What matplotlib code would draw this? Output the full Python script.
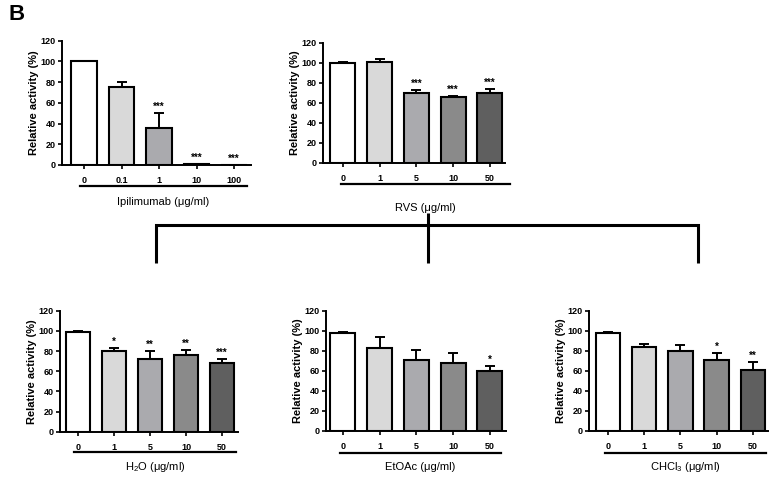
import matplotlib
matplotlib.use("Agg")
import matplotlib.pyplot as plt
from matplotlib.lines import Line2D
from matplotlib import font_manager as fm

# avoid the condensed "Narrow" variant being picked for Liberation Sans
fm.fontManager.ttflist = [f for f in fm.fontManager.ttflist
                          if 'Narrow' not in f.fname and 'Narrow' not in f.name]

plt.rcParams['font.family'] = ['Liberation Sans', 'DejaVu Sans']
plt.rcParams['mathtext.fontset'] = 'custom'
plt.rcParams['mathtext.rm'] = 'Liberation Sans'
plt.rcParams['mathtext.it'] = 'Liberation Sans:italic'
plt.rcParams['mathtext.bf'] = 'Liberation Sans:bold'

# ---- data ----
ipi_labels = ["0", "0.1", "1", "10", "100"]
ipi_values = [100, 75, 36, 0.6, 0]
ipi_errors = [0, 5.5, 14, 0.3, 0]
ipi_stars = ["", "", "***", "***", "***"]

rvs_labels = ["0", "1", "5", "10", "50"]
rvs_values = [100, 101, 70, 65.5, 70]
rvs_errors = [0.8, 2.5, 3, 1.2, 4]
rvs_stars = ["", "", "***", "***", "***"]

h2o_labels = ["0", "1", "5", "10", "50"]
h2o_values = [98.5, 80, 72.5, 76, 68]
h2o_errors = [1, 3, 7.5, 5, 4]
h2o_stars = ["", "*", "**", "**", "***"]

etoac_labels = ["0", "1", "5", "10", "50"]
etoac_values = [98.5, 83, 71.5, 68, 60.5]
etoac_errors = [1, 11, 9.5, 10, 5]
etoac_stars = ["", "", "", "", "*"]

chcl3_labels = ["0", "1", "5", "10", "50"]
chcl3_values = [98.5, 84.5, 80.5, 71.5, 61]
chcl3_errors = [1, 3, 6, 7, 8.5]
chcl3_stars = ["", "", "", "*", "**"]

colors5 = ["#ffffff", "#d9d9d9", "#aaaaae", "#8a8a8a", "#5f5f5f"]

W, H = 776, 478
fig = plt.figure(figsize=(W / 100, H / 100), dpi=100)


def px_rect(x0, y0, x1, y1):
    return [x0 / W, 1 - y1 / H, (x1 - x0) / W, (y1 - y0) / H]


def panel(rect, xlim, labels, values, errors, stars, xlabel, uline, lab_y):
    ax = fig.add_axes(rect)
    x = list(range(len(values)))
    ax.bar(x, values, width=0.68, color=colors5, edgecolor="black",
           linewidth=1.5, zorder=3)
    ax.errorbar(x, values, yerr=[[0] * len(errors), errors], fmt="none",
                ecolor="black", elinewidth=1.4, capsize=3.5, capthick=1.4,
                zorder=2)
    for xi, v, e, s in zip(x, values, errors, stars):
        if s:
            ax.text(xi, v + e + 1.0, s, ha="center", va="bottom",
                    fontsize=7, fontweight="bold", zorder=4)
    ax.set_xlim(*xlim)
    ax.set_ylim(0, 120)
    ax.set_yticks([0, 20, 40, 60, 80, 100, 120])
    ax.set_xticks(x)
    ax.set_xticklabels(labels)
    for sp in ["top", "right"]:
        ax.spines[sp].set_visible(False)
    for sp in ["left", "bottom"]:
        ax.spines[sp].set_linewidth(1.4)
    ax.tick_params(axis="both", direction="out", length=3, width=1.2,
                   labelsize=6.5, pad=1.5)
    for t in ax.get_xticklabels() + ax.get_yticklabels():
        t.set_fontweight("bold")
    ax.tick_params(axis="x", pad=5)
    ax.set_ylabel("Relative activity (%)", fontsize=8, fontweight="bold",
                  labelpad=1.5)
    # underline and label
    x0, x1, yl = uline
    fig.add_artist(Line2D([x0 / W, x1 / W], [1 - yl / H, 1 - yl / H],
                          color="black", linewidth=1.6))
    fig.text((x0 + x1) / 2 / W, 1 - lab_y / H, xlabel, ha="center",
             va="center", fontsize=8)
    return ax


panel(px_rect(62, 40.7, 62 + 37.5 * 5.05, 165), (-0.59, 4.46),
      ipi_labels, ipi_values, ipi_errors, ipi_stars,
      "Ipilimumab (μg/ml)", (80, 247, 186), 202)
panel(px_rect(323, 43, 323 + 36.75 * 4.95, 163), (-0.54, 4.41),
      rvs_labels, rvs_values, rvs_errors, rvs_stars,
      "RVS (μg/ml)", (341, 510, 184), 208)
panel(px_rect(60, 310.7, 60 + 36 * 4.95, 431.7), (-0.5, 4.45),
      h2o_labels, h2o_values, h2o_errors, h2o_stars,
      r"H$_2$O (μg/ml)", (74, 236, 452), 467)
panel(px_rect(326, 311, 326 + 36.75 * 4.9, 431), (-0.46, 4.44),
      etoac_labels, etoac_values, etoac_errors, etoac_stars,
      "EtOAc (μg/ml)", (340, 501, 453), 467)
panel(px_rect(589, 311, 589 + 36.25 * 4.95, 431), (-0.52, 4.43),
      chcl3_labels, chcl3_values, chcl3_errors, chcl3_stars,
      r"CHCl$_3$ (μg/ml)", (605, 766, 453), 467)

# connecting bracket
def fl(xs, ys):
    fig.add_artist(Line2D([v / W for v in xs], [1 - v / H for v in ys],
                          color="black", linewidth=2.2,
                          solid_capstyle="butt", solid_joinstyle="miter"))

fl([156, 156, 698, 698], [263, 225, 225, 263])
fl([428, 428], [213, 263])

fig.text(8 / W, 1 - 14 / H, "B", fontsize=16, fontweight="bold",
         ha="left", va="center")

fig.savefig("out.png", dpi=100)
